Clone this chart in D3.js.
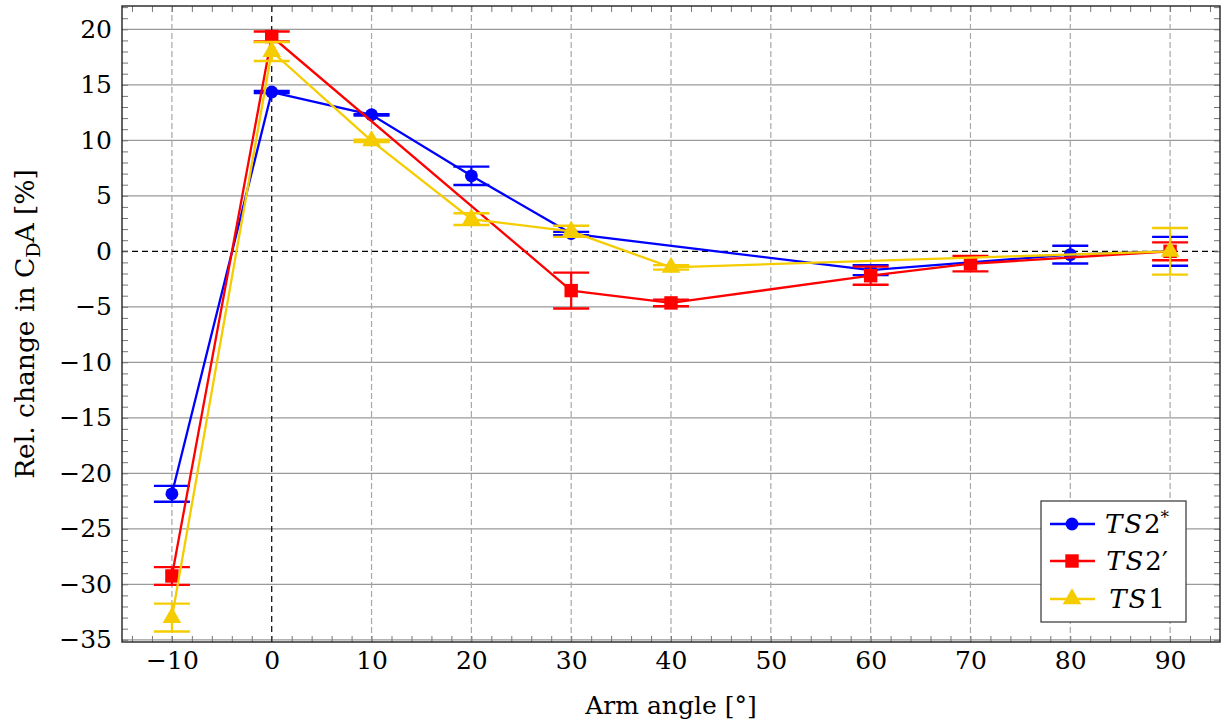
<!DOCTYPE html>
<html>
<head>
<meta charset="utf-8">
<script src="https://cdn.jsdelivr.net/npm/d3@7"></script>
<style>
  html, body { margin: 0; padding: 0; background: #fff; }
  svg { display: block; }
  text { font-family: "DejaVu Serif", serif; fill: #000; }
</style>
</head>
<body>
<svg id="chart" width="1224" height="723"></svg>
<script>
// ---- data ----
const anglesTS2star = [-10, 0, 10, 20, 30, 60, 80, 90];
const valuesTS2star = [-21.85, 14.35, 12.3, 6.8, 1.6, -1.7, -0.3, 0];
const errorsTS2star = [0.72, 0.1, 0.06, 0.83, 0.15, 0.45, 0.8, 1.3];

const anglesTS2prime = [-10, 0, 30, 40, 60, 70, 90];
const valuesTS2prime = [-29.25, 19.35, -3.54, -4.65, -2.2, -1.12, 0];
const errorsTS2prime = [0.8, 0.45, 1.62, 0.3, 0.82, 0.69, 0.8];

const anglesTS1 = [-10, 0, 10, 20, 30, 40, 90];
const valuesTS1 = [-33.0, 18.0, 9.95, 2.9, 1.8, -1.45, 0];
const errorsTS1 = [1.26, 0.86, 0.1, 0.53, 0.5, 0.2, 2.1];

const xMajorTicks = [-10, 0, 10, 20, 30, 40, 50, 60, 70, 80, 90];
const yMajorTicks = [-35, -30, -25, -20, -15, -10, -5, 0, 5, 10, 15, 20];

const xLabel = "Arm angle [°]";
const yLabelParts = ["Rel. change in C", "D", "A [%]"];

// ---- layout ----
const L = 122, R = 1220, T = 6, B = 642;
const svg = d3.select("#chart");
const x = d3.scaleLinear().domain([-15, 95]).range([L, R]);
const y = d3.scaleLinear().domain([-35.2, 22.1]).range([B, T]);

const xMinor = d3.range(-14, 95, 2).filter(v => v % 10 !== 0);
const yMinor = d3.range(-35, 23, 1).filter(v => v % 5 !== 0);

// grid
const grid = svg.append("g");
grid.selectAll("line.hg").data(yMajorTicks.filter(v => v !== 0)).join("line")
  .attr("x1", L).attr("x2", R)
  .attr("y1", d => y(d)).attr("y2", d => y(d))
  .attr("stroke", "#9a9a9a").attr("stroke-width", 1.2);
grid.selectAll("line.vg").data(xMajorTicks.filter(v => v !== 0)).join("line")
  .attr("y1", T).attr("y2", B)
  .attr("x1", d => x(d)).attr("x2", d => x(d))
  .attr("stroke", "#a8a8a8").attr("stroke-width", 1.2).attr("stroke-dasharray", "6,3");
// zero lines
grid.append("line").attr("x1", L).attr("x2", R).attr("y1", y(0)).attr("y2", y(0))
  .attr("stroke", "#000").attr("stroke-width", 1.2).attr("stroke-dasharray", "6,4");
grid.append("line").attr("x1", x(0)).attr("x2", x(0)).attr("y1", T).attr("y2", B)
  .attr("stroke", "#000").attr("stroke-width", 1.2).attr("stroke-dasharray", "6,4");

// inner ticks (all four sides)
function tickAxis(axis, transform) {
  const g = svg.append("g").attr("transform", transform).call(axis);
  g.select(".domain").remove();
  g.selectAll(".tick line").attr("stroke", "#777").attr("stroke-width", 1);
  g.selectAll(".tick text").remove();
  return g;
}
tickAxis(d3.axisRight(y).tickValues(yMinor.concat(yMajorTicks)).tickSize(6), `translate(${L},0)`);
tickAxis(d3.axisLeft(y).tickValues(yMinor.concat(yMajorTicks)).tickSize(6), `translate(${R},0)`);
tickAxis(d3.axisTop(x).tickValues(xMinor.concat(xMajorTicks)).tickSize(6), `translate(0,${B})`);
tickAxis(d3.axisBottom(x).tickValues(xMinor.concat(xMajorTicks)).tickSize(6), `translate(0,${T})`);

// tick labels
const yAx = svg.append("g").attr("transform", `translate(${L},0)`)
  .call(d3.axisLeft(y).tickValues(yMajorTicks).tickSize(0).tickPadding(10).tickFormat(d3.format("d")));
yAx.select(".domain").remove();
yAx.selectAll("text").style("font-family", "DejaVu Serif").style("font-size", "25px").attr("fill", "#000");

const xAx = svg.append("g").attr("transform", `translate(0,${B})`)
  .call(d3.axisBottom(x).tickValues(xMajorTicks).tickSize(0).tickPadding(9).tickFormat(d3.format("d")));
xAx.select(".domain").remove();
xAx.selectAll("text").style("font-family", "DejaVu Serif").style("font-size", "25px").attr("fill", "#000");

// frame
svg.append("rect").attr("x", L).attr("y", T).attr("width", R - L).attr("height", B - T)
  .attr("fill", "none").attr("stroke", "#222").attr("stroke-width", 1.4);

// axis labels
svg.append("text").attr("x", (L + R) / 2).attr("y", 714).attr("text-anchor", "middle")
  .style("font-size", "25px").text(xLabel);
const yl = svg.append("text").attr("transform", `translate(34,${(T + B) / 2}) rotate(-90)`)
  .attr("text-anchor", "middle").style("font-size", "26.5px");
yl.append("tspan").text(yLabelParts[0]);
yl.append("tspan").attr("dy", 6).style("font-size", "19px").text(yLabelParts[1]);
yl.append("tspan").attr("dy", -6).text(yLabelParts[2]);

// series
const series = [
  { name: "TS2*", color: "#0000ff", marker: "circle", a: anglesTS2star, v: valuesTS2star, e: errorsTS2star },
  { name: "TS2'", color: "#ff0000", marker: "square", a: anglesTS2prime, v: valuesTS2prime, e: errorsTS2prime },
  { name: "TS1", color: "#f5cc00", marker: "triangle", a: anglesTS1, v: valuesTS1, e: errorsTS1 }
];
const symbols = {
  circle: d3.symbol().type(d3.symbolCircle).size(130),
  square: d3.symbol().type(d3.symbolSquare).size(180),
  triangle: d3.symbol().type(d3.symbolTriangle).size(150)
};
const capW = 18;
series.forEach(s => {
  const pts = s.a.map((a, i) => ({ a, v: s.v[i], e: s.e[i] }));
  const g = svg.append("g");
  g.append("path").datum(pts)
    .attr("d", d3.line().x(d => x(d.a)).y(d => y(d.v)))
    .attr("fill", "none").attr("stroke", s.color).attr("stroke-width", 2.3);
  const eb = g.selectAll("g.eb").data(pts).join("g");
  eb.append("line").attr("x1", d => x(d.a)).attr("x2", d => x(d.a))
    .attr("y1", d => y(d.v + d.e)).attr("y2", d => y(d.v - d.e))
    .attr("stroke", s.color).attr("stroke-width", 2.2);
  [1, -1].forEach(sg => {
    eb.append("line").attr("x1", d => x(d.a) - capW).attr("x2", d => x(d.a) + capW)
      .attr("y1", d => y(d.v + sg * d.e)).attr("y2", d => y(d.v + sg * d.e))
      .attr("stroke", s.color).attr("stroke-width", 2.4);
  });
  g.selectAll("path.mk").data(pts).join("path")
    .attr("transform", d => `translate(${x(d.a)},${y(d.v)})`)
    .attr("d", symbols[s.marker]).attr("fill", s.color);
});

// legend
const lg = svg.append("g");
lg.append("rect").attr("x", 1041).attr("y", 501).attr("width", 145).attr("height", 121)
  .attr("fill", "#fff").attr("stroke", "#333").attr("stroke-width", 1.2);
const legendY = [524, 561, 599];
series.forEach((s, i) => {
  const yy = legendY[i];
  lg.append("line").attr("x1", 1050).attr("x2", 1095).attr("y1", yy).attr("y2", yy)
    .attr("stroke", s.color).attr("stroke-width", 2.3);
  lg.append("path").attr("transform", `translate(1072,${yy})`).attr("d", symbols[s.marker]).attr("fill", s.color);
  const t = lg.append("text").attr("x", 1137).attr("y", yy + 9).attr("text-anchor", "middle")
    .style("font-size", "26px");
  t.append("tspan").style("font-style", "italic").attr("letter-spacing", "2").text("TS");
  if (i === 0) {
    t.append("tspan").text("2");
    t.append("tspan").attr("dy", -10).style("font-size", "17px").text("*");
  } else if (i === 1) {
    t.append("tspan").text("2′");
  } else {
    t.append("tspan").text("1");
  }
});
</script>
</body>
</html>
